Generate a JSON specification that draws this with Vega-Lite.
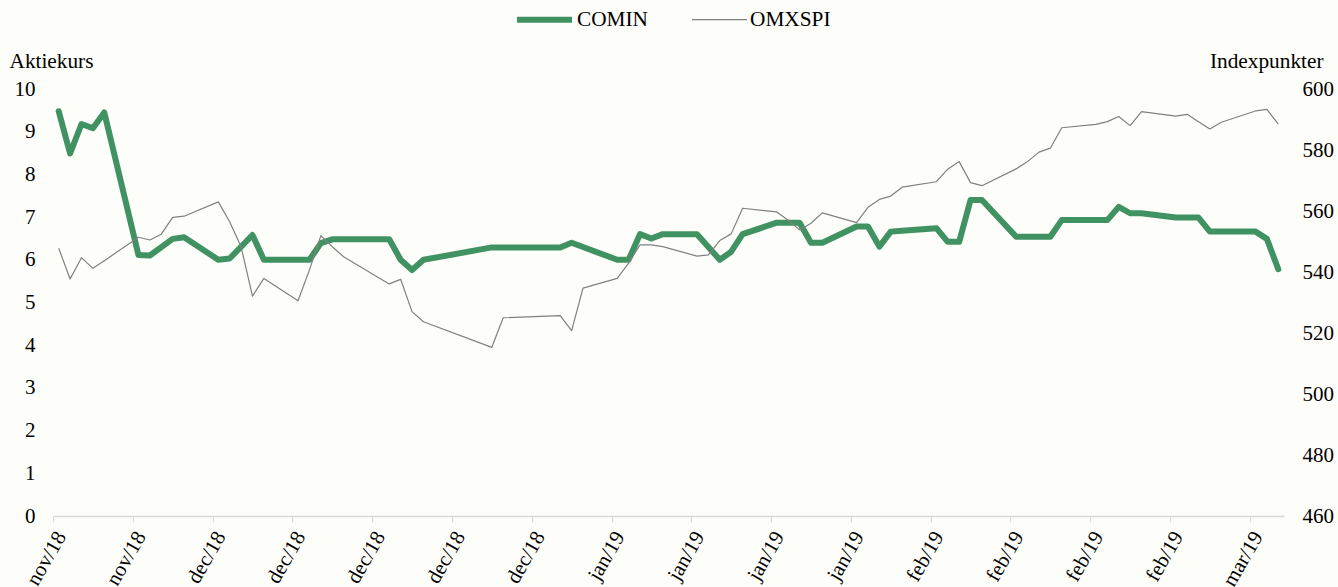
{
  "$schema": "https://vega.github.io/schema/vega-lite/v6.json",
  "width": 1231,
  "height": 427,
  "autosize": "none",
  "padding": {"left": 53, "top": 89, "right": 54, "bottom": 71},
  "background": "#fdfdf9",
  "config": {
    "view": {"stroke": null},
    "font": "Liberation Serif",
    "axis": {"labelFont": "Liberation Serif", "titleFont": "Liberation Serif", "labelColor": "#000000", "titleColor": "#000000", "labelFontSize": 21, "titleFontSize": 21.3, "titleFontWeight": "normal", "grid": false},
    "legend": {"labelFont": "Liberation Serif", "labelFontSize": 21.3, "labelColor": "#000000"}
  },
  "datasets": {
    "prices": [
      {"date": "2018-11-19", "series": "COMIN", "value": 9.48},
      {"date": "2018-11-20", "series": "COMIN", "value": 8.49},
      {"date": "2018-11-21", "series": "COMIN", "value": 9.18},
      {"date": "2018-11-22", "series": "COMIN", "value": 9.08},
      {"date": "2018-11-23", "series": "COMIN", "value": 9.45},
      {"date": "2018-11-26", "series": "COMIN", "value": 6.11},
      {"date": "2018-11-27", "series": "COMIN", "value": 6.10},
      {"date": "2018-11-29", "series": "COMIN", "value": 6.49},
      {"date": "2018-11-30", "series": "COMIN", "value": 6.53},
      {"date": "2018-12-03", "series": "COMIN", "value": 6.00},
      {"date": "2018-12-04", "series": "COMIN", "value": 6.03},
      {"date": "2018-12-06", "series": "COMIN", "value": 6.58},
      {"date": "2018-12-07", "series": "COMIN", "value": 6.00},
      {"date": "2018-12-10", "series": "COMIN", "value": 6.00},
      {"date": "2018-12-11", "series": "COMIN", "value": 6.00},
      {"date": "2018-12-12", "series": "COMIN", "value": 6.39},
      {"date": "2018-12-13", "series": "COMIN", "value": 6.48},
      {"date": "2018-12-14", "series": "COMIN", "value": 6.48},
      {"date": "2018-12-17", "series": "COMIN", "value": 6.48},
      {"date": "2018-12-18", "series": "COMIN", "value": 6.48},
      {"date": "2018-12-19", "series": "COMIN", "value": 6.00},
      {"date": "2018-12-20", "series": "COMIN", "value": 5.76},
      {"date": "2018-12-21", "series": "COMIN", "value": 6.00},
      {"date": "2018-12-27", "series": "COMIN", "value": 6.29},
      {"date": "2018-12-28", "series": "COMIN", "value": 6.29},
      {"date": "2019-01-02", "series": "COMIN", "value": 6.29},
      {"date": "2019-01-03", "series": "COMIN", "value": 6.40},
      {"date": "2019-01-07", "series": "COMIN", "value": 6.00},
      {"date": "2019-01-08", "series": "COMIN", "value": 6.00},
      {"date": "2019-01-09", "series": "COMIN", "value": 6.60},
      {"date": "2019-01-10", "series": "COMIN", "value": 6.50},
      {"date": "2019-01-11", "series": "COMIN", "value": 6.60},
      {"date": "2019-01-14", "series": "COMIN", "value": 6.60},
      {"date": "2019-01-16", "series": "COMIN", "value": 6.00},
      {"date": "2019-01-17", "series": "COMIN", "value": 6.19},
      {"date": "2019-01-18", "series": "COMIN", "value": 6.60},
      {"date": "2019-01-21", "series": "COMIN", "value": 6.87},
      {"date": "2019-01-22", "series": "COMIN", "value": 6.87},
      {"date": "2019-01-23", "series": "COMIN", "value": 6.87},
      {"date": "2019-01-24", "series": "COMIN", "value": 6.40},
      {"date": "2019-01-25", "series": "COMIN", "value": 6.40},
      {"date": "2019-01-28", "series": "COMIN", "value": 6.78},
      {"date": "2019-01-29", "series": "COMIN", "value": 6.78},
      {"date": "2019-01-30", "series": "COMIN", "value": 6.31},
      {"date": "2019-01-31", "series": "COMIN", "value": 6.66},
      {"date": "2019-02-01", "series": "COMIN", "value": 6.68},
      {"date": "2019-02-04", "series": "COMIN", "value": 6.74},
      {"date": "2019-02-05", "series": "COMIN", "value": 6.42},
      {"date": "2019-02-06", "series": "COMIN", "value": 6.42},
      {"date": "2019-02-07", "series": "COMIN", "value": 7.40},
      {"date": "2019-02-08", "series": "COMIN", "value": 7.40},
      {"date": "2019-02-11", "series": "COMIN", "value": 6.54},
      {"date": "2019-02-12", "series": "COMIN", "value": 6.54},
      {"date": "2019-02-13", "series": "COMIN", "value": 6.54},
      {"date": "2019-02-14", "series": "COMIN", "value": 6.54},
      {"date": "2019-02-15", "series": "COMIN", "value": 6.93},
      {"date": "2019-02-18", "series": "COMIN", "value": 6.93},
      {"date": "2019-02-19", "series": "COMIN", "value": 6.93},
      {"date": "2019-02-20", "series": "COMIN", "value": 7.24},
      {"date": "2019-02-21", "series": "COMIN", "value": 7.09},
      {"date": "2019-02-22", "series": "COMIN", "value": 7.09},
      {"date": "2019-02-25", "series": "COMIN", "value": 6.99},
      {"date": "2019-02-26", "series": "COMIN", "value": 6.99},
      {"date": "2019-02-27", "series": "COMIN", "value": 6.99},
      {"date": "2019-02-28", "series": "COMIN", "value": 6.66},
      {"date": "2019-03-01", "series": "COMIN", "value": 6.66},
      {"date": "2019-03-04", "series": "COMIN", "value": 6.66},
      {"date": "2019-03-05", "series": "COMIN", "value": 6.49},
      {"date": "2019-03-06", "series": "COMIN", "value": 5.78},
      {"date": "2018-11-19", "series": "OMXSPI", "value": 547.8},
      {"date": "2018-11-20", "series": "OMXSPI", "value": 537.7},
      {"date": "2018-11-21", "series": "OMXSPI", "value": 544.7},
      {"date": "2018-11-22", "series": "OMXSPI", "value": 541.2},
      {"date": "2018-11-23", "series": "OMXSPI", "value": 543.7},
      {"date": "2018-11-26", "series": "OMXSPI", "value": 551.4},
      {"date": "2018-11-27", "series": "OMXSPI", "value": 550.5},
      {"date": "2018-11-28", "series": "OMXSPI", "value": 552.4},
      {"date": "2018-11-29", "series": "OMXSPI", "value": 557.9},
      {"date": "2018-11-30", "series": "OMXSPI", "value": 558.3},
      {"date": "2018-12-03", "series": "OMXSPI", "value": 563.0},
      {"date": "2018-12-04", "series": "OMXSPI", "value": 556.5},
      {"date": "2018-12-05", "series": "OMXSPI", "value": 548.3},
      {"date": "2018-12-06", "series": "OMXSPI", "value": 532.1},
      {"date": "2018-12-07", "series": "OMXSPI", "value": 537.9},
      {"date": "2018-12-10", "series": "OMXSPI", "value": 530.6},
      {"date": "2018-12-11", "series": "OMXSPI", "value": 540.7},
      {"date": "2018-12-12", "series": "OMXSPI", "value": 551.9},
      {"date": "2018-12-13", "series": "OMXSPI", "value": 548.3},
      {"date": "2018-12-14", "series": "OMXSPI", "value": 545.0},
      {"date": "2018-12-17", "series": "OMXSPI", "value": 538.3},
      {"date": "2018-12-18", "series": "OMXSPI", "value": 536.1},
      {"date": "2018-12-19", "series": "OMXSPI", "value": 537.6},
      {"date": "2018-12-20", "series": "OMXSPI", "value": 527.0},
      {"date": "2018-12-21", "series": "OMXSPI", "value": 523.7},
      {"date": "2018-12-27", "series": "OMXSPI", "value": 515.3},
      {"date": "2018-12-28", "series": "OMXSPI", "value": 525.0},
      {"date": "2019-01-02", "series": "OMXSPI", "value": 525.7},
      {"date": "2019-01-03", "series": "OMXSPI", "value": 520.8},
      {"date": "2019-01-04", "series": "OMXSPI", "value": 534.7},
      {"date": "2019-01-07", "series": "OMXSPI", "value": 537.9},
      {"date": "2019-01-08", "series": "OMXSPI", "value": 542.9},
      {"date": "2019-01-09", "series": "OMXSPI", "value": 548.9},
      {"date": "2019-01-10", "series": "OMXSPI", "value": 548.9},
      {"date": "2019-01-11", "series": "OMXSPI", "value": 548.3},
      {"date": "2019-01-14", "series": "OMXSPI", "value": 545.2},
      {"date": "2019-01-15", "series": "OMXSPI", "value": 545.6},
      {"date": "2019-01-16", "series": "OMXSPI", "value": 550.3},
      {"date": "2019-01-17", "series": "OMXSPI", "value": 552.5},
      {"date": "2019-01-18", "series": "OMXSPI", "value": 560.9},
      {"date": "2019-01-21", "series": "OMXSPI", "value": 559.7},
      {"date": "2019-01-22", "series": "OMXSPI", "value": 557.0},
      {"date": "2019-01-23", "series": "OMXSPI", "value": 553.8},
      {"date": "2019-01-24", "series": "OMXSPI", "value": 556.0},
      {"date": "2019-01-25", "series": "OMXSPI", "value": 559.4},
      {"date": "2019-01-28", "series": "OMXSPI", "value": 556.2},
      {"date": "2019-01-29", "series": "OMXSPI", "value": 561.2},
      {"date": "2019-01-30", "series": "OMXSPI", "value": 563.8},
      {"date": "2019-01-31", "series": "OMXSPI", "value": 564.9},
      {"date": "2019-02-01", "series": "OMXSPI", "value": 567.8},
      {"date": "2019-02-04", "series": "OMXSPI", "value": 569.6},
      {"date": "2019-02-05", "series": "OMXSPI", "value": 573.7},
      {"date": "2019-02-06", "series": "OMXSPI", "value": 576.2},
      {"date": "2019-02-07", "series": "OMXSPI", "value": 569.3},
      {"date": "2019-02-08", "series": "OMXSPI", "value": 568.3},
      {"date": "2019-02-11", "series": "OMXSPI", "value": 573.8},
      {"date": "2019-02-12", "series": "OMXSPI", "value": 576.2},
      {"date": "2019-02-13", "series": "OMXSPI", "value": 579.3},
      {"date": "2019-02-14", "series": "OMXSPI", "value": 580.6},
      {"date": "2019-02-15", "series": "OMXSPI", "value": 587.3},
      {"date": "2019-02-18", "series": "OMXSPI", "value": 588.4},
      {"date": "2019-02-19", "series": "OMXSPI", "value": 589.3},
      {"date": "2019-02-20", "series": "OMXSPI", "value": 591.0},
      {"date": "2019-02-21", "series": "OMXSPI", "value": 588.0},
      {"date": "2019-02-22", "series": "OMXSPI", "value": 592.6},
      {"date": "2019-02-25", "series": "OMXSPI", "value": 591.1},
      {"date": "2019-02-26", "series": "OMXSPI", "value": 591.7},
      {"date": "2019-02-27", "series": "OMXSPI", "value": 589.3},
      {"date": "2019-02-28", "series": "OMXSPI", "value": 586.9},
      {"date": "2019-03-01", "series": "OMXSPI", "value": 589.1},
      {"date": "2019-03-04", "series": "OMXSPI", "value": 592.8},
      {"date": "2019-03-05", "series": "OMXSPI", "value": 593.3},
      {"date": "2019-03-06", "series": "OMXSPI", "value": 588.5}
    ]
  },
  "data": {"name": "prices"},
  "encoding": {
    "x": {
      "field": "date",
      "type": "temporal",
      "scale": {
        "nice": false,
        "domain": [
          {"year": 2018, "month": 11, "date": 18, "hours": 12, "utc": true},
          {"year": 2019, "month": 3, "date": 6, "hours": 12, "utc": true}
        ]
      },
      "axis": {
        "title": null,
        "values": [
          {"year": 2018, "month": 11, "date": 18, "hours": 12, "utc": true},
          {"year": 2018, "month": 11, "date": 25, "hours": 12, "utc": true},
          {"year": 2018, "month": 12, "date": 2, "hours": 12, "utc": true},
          {"year": 2018, "month": 12, "date": 9, "hours": 12, "utc": true},
          {"year": 2018, "month": 12, "date": 16, "hours": 12, "utc": true},
          {"year": 2018, "month": 12, "date": 23, "hours": 12, "utc": true},
          {"year": 2018, "month": 12, "date": 30, "hours": 12, "utc": true},
          {"year": 2019, "month": 1, "date": 6, "hours": 12, "utc": true},
          {"year": 2019, "month": 1, "date": 13, "hours": 12, "utc": true},
          {"year": 2019, "month": 1, "date": 20, "hours": 12, "utc": true},
          {"year": 2019, "month": 1, "date": 27, "hours": 12, "utc": true},
          {"year": 2019, "month": 2, "date": 3, "hours": 12, "utc": true},
          {"year": 2019, "month": 2, "date": 10, "hours": 12, "utc": true},
          {"year": 2019, "month": 2, "date": 17, "hours": 12, "utc": true},
          {"year": 2019, "month": 2, "date": 24, "hours": 12, "utc": true},
          {"year": 2019, "month": 3, "date": 3, "hours": 12, "utc": true}
        ],
        "labelExpr": "lower(utcFormat(datum.value, '%b/%y'))",
        "labelAngle": -60,
        "labelAlign": "right",
        "labelBaseline": "middle",
        "labelPadding": 11,
        "labelOffset": 8,
        "labelOverlap": false,
        "labelFlush": false,
        "labelBound": false,
        "domainColor": "#d9d9d9",
        "domainWidth": 1.3,
        "tickColor": "#d9d9d9",
        "tickWidth": 1.3,
        "tickSize": 6
      }
    },
    "color": {
      "field": "series",
      "type": "nominal",
      "scale": {"domain": ["COMIN", "OMXSPI"], "range": ["#419262", "#808080"]},
      "legend": {
        "title": null,
        "orient": "none",
        "legendX": 461,
        "legendY": -100,
        "direction": "horizontal",
        "symbolType": "stroke",
        "symbolSize": 3025,
        "labelOffset": 2,
        "columnPadding": 41
      }
    },
    "strokeWidth": {
      "field": "series",
      "type": "nominal",
      "scale": {"type": "ordinal", "domain": ["COMIN", "OMXSPI"], "range": [6, 1.2]},
      "legend": {
        "title": null,
        "orient": "none",
        "legendX": 461,
        "legendY": -100,
        "direction": "horizontal",
        "symbolType": "stroke",
        "symbolSize": 3025,
        "labelOffset": 2,
        "columnPadding": 41
      }
    }
  },
  "layer": [
    {
      "transform": [{"filter": "datum.series === 'COMIN'"}],
      "mark": {"type": "line", "strokeCap": "round", "strokeJoin": "round"},
      "encoding": {
        "y": {
          "field": "value",
          "type": "quantitative",
          "scale": {"domain": [0, 10], "nice": false, "zero": false},
          "axis": {
            "orient": "left",
            "values": [0, 1, 2, 3, 4, 5, 6, 7, 8, 9, 10],
            "domain": false,
            "ticks": false,
            "labelPadding": 18,
            "title": "Aktiekurs",
            "titleAngle": 0,
            "titleX": -44,
            "titleY": -22,
            "titleAlign": "left",
            "titleBaseline": "alphabetic"
          }
        }
      }
    },
    {
      "transform": [{"filter": "datum.series === 'OMXSPI'"}],
      "mark": {"type": "line", "strokeJoin": "round"},
      "encoding": {
        "y": {
          "field": "value",
          "type": "quantitative",
          "scale": {"domain": [460, 600], "nice": false, "zero": false},
          "axis": {
            "orient": "right",
            "values": [460, 480, 500, 520, 540, 560, 580, 600],
            "domain": false,
            "ticks": false,
            "labelPadding": 18,
            "title": "Indexpunkter",
            "titleAngle": 0,
            "titleX": 39,
            "titleY": -22,
            "titleAlign": "right",
            "titleBaseline": "alphabetic"
          }
        }
      }
    }
  ],
  "resolve": {"scale": {"y": "independent"}}
}
